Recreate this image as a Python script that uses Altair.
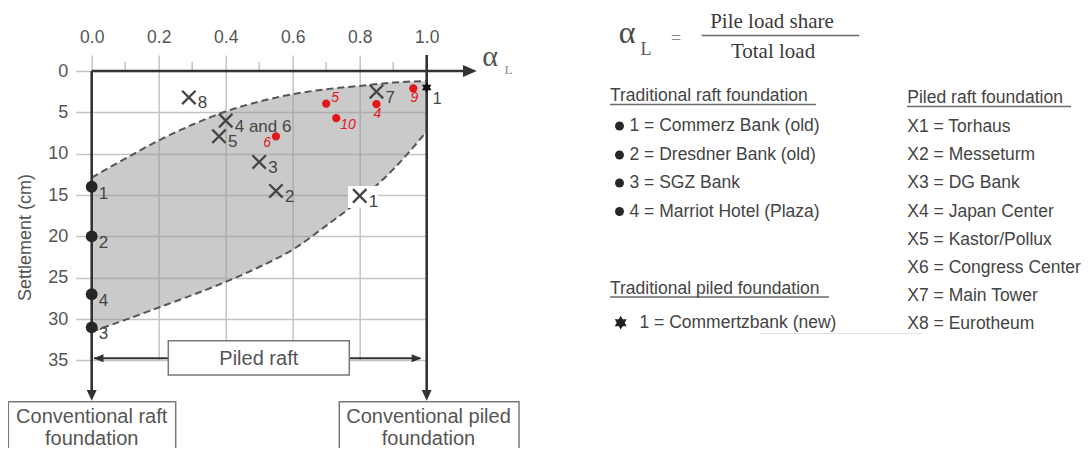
import altair as alt
import pandas as pd

# ---------------- data ----------------
alpha_grid = [0.0, 0.1, 0.2, 0.3, 0.4, 0.5, 0.6, 0.7, 0.8, 0.9, 1.0]
upper_env = [12.9, 10.6, 8.4, 6.5, 4.9, 3.7, 2.8, 2.2, 1.8, 1.4, 1.2]
lower_env = [31.5, 30.1, 28.6, 27.1, 25.5, 23.7, 21.6, 18.7, 15.6, 11.9, 7.3]

raft_ids = ["1", "2", "4", "3"]
raft_alpha = [0.0, 0.0, 0.0, 0.0]
raft_settle = [14.0, 20.0, 27.0, 31.0]

piled_raft_ids = ["8", "4 and 6", "5", "3", "2", "1", "7"]
piled_raft_alpha = [0.29, 0.40, 0.38, 0.50, 0.55, 0.80, 0.85]
piled_raft_settle = [3.2, 6.0, 7.9, 11.0, 14.5, 15.1, 2.5]

red_ids = ["5", "10", "4", "9", "6"]
red_alpha = [0.70, 0.73, 0.85, 0.96, 0.55]
red_settle = [3.95, 5.7, 4.0, 2.1, 7.9]

piled_ids = ["1"]
piled_alpha = [1.0]
piled_settle = [2.0]

x_ticks = [0.0, 0.2, 0.4, 0.6, 0.8, 1.0]
x_minor = [0.1, 0.3, 0.5, 0.7, 0.9]
y_ticks = [0, 5, 10, 15, 20, 25, 30, 35]

legend_raft = ["1 = Commerz Bank (old)", "2 = Dresdner Bank (old)",
               "3 = SGZ Bank", "4 = Marriot Hotel (Plaza)"]
legend_piled = ["1 = Commertzbank (new)"]
legend_piled_raft = ["X1 = Torhaus", "X2 = Messeturm", "X3  = DG Bank",
                     "X4 = Japan Center", "X5 = Kastor/Pollux",
                     "X6 = Congress Center", "X7 = Main Tower", "X8 = Eurotheum"]

# ---------------- layout helpers ----------------
X0, XS, Y0, YS = 91.7, 335.0, 71.0, 8.27   # page pixel of alpha=0 / px per unit, settlement=0 / px per cm
W, H = 335.0, 35 * YS
TOTAL_W, TOTAL_H = 1075.0, 440.0


def px(p):
    return (p - X0) / XS


def py(p):
    return (p - Y0) / YS


FONT = "Liberation Sans"
SERIF = "Liberation Serif"
INK = "#333333"
TXT = "#444444"
RED = "#e2161b"
GRID = "#c4c4c4"

xs = alt.Scale(domain=[0, 1], nice=False, zero=False)
ys = alt.Scale(domain=[0, 35], reverse=True, nice=False, zero=False)

XAX = alt.Axis(orient="top", values=x_ticks, format=".1f", title=None, grid=True,
               labelFontSize=17.5, labelPadding=9, labelFont=FONT, labelColor="#555555",
               labelFlush=False, labelOverlap=False,
               domain=False, tickColor=GRID, tickWidth=1.5, tickSize=16,
               gridColor=GRID, gridWidth=1.5)
YAX = alt.Axis(orient="left", values=y_ticks, title="Settlement (cm)", grid=True,
               labelFontSize=18, labelPadding=8, labelFont=FONT, labelColor="#555555",
               labelFlush=False, labelOverlap=False,
               domain=False, tickColor=GRID, tickWidth=1.5, tickSize=16,
               gridColor=GRID, gridWidth=1.5,
               titleFontSize=18, titleColor="#555555", titleFontWeight="normal",
               titleFont=FONT, titleAngle=270, titleAlign="center",
               titleBaseline="bottom", titleX=-57, titleY=166)


def X(f="x"):
    return alt.X(f"{f}:Q", scale=xs, axis=XAX)


def Y(f="y"):
    return alt.Y(f"{f}:Q", scale=ys, axis=YAX)


XPATH = "M-1,-1L1,1M-1,1L1,-1"
STAR = "M0,-1L0.866,0.5L-0.866,0.5Z M0,1L-0.866,-0.5L0.866,-0.5Z"
ARROW_R = "M0,0L-2,-0.875L-2,0.875Z"
ARROW_D = "M0,0L-0.93,-2L0.93,-2Z"
SMALL_L = "M0,0L2,-0.8L2,0.8Z"
SMALL_R = "M0,0L-2,-0.8L-2,0.8Z"

layers = []

# ---------------- envelope ----------------
env = pd.DataFrame({"x": alpha_grid, "upper": upper_env, "lower": lower_env})
layers.append(alt.Chart(env).mark_area(color="#969696", opacity=0.5, interpolate="monotone").encode(
    x=X("x"), y=Y("upper"), y2="lower:Q"))
for col in ["upper", "lower"]:
    layers.append(alt.Chart(env).mark_line(
        color="#555555", strokeWidth=2, strokeDash=[7, 4], interpolate="monotone"
    ).encode(x=X("x"), y=Y(col)))

# minor ticks on the top axis
minor = pd.DataFrame({"x": x_minor, "y": [py(62)] * 5, "y2": [0.0] * 5})
layers.append(alt.Chart(minor).mark_rule(color=GRID, strokeWidth=1.5).encode(
    x=X("x"), y=Y("y"), y2="y2:Q"))

# ---------------- frame lines and arrows ----------------
segs = pd.DataFrame([
    {"x": 0.0, "x2": px(476.7 - 12), "y": 0.0, "y2": 0.0},
    {"x": 0.0, "x2": 0.0, "y": 0.0, "y2": py(400.7 - 9)},
    {"x": 1.0, "x2": 1.0, "y": py(55), "y2": py(400.7 - 9)},
])
layers.append(alt.Chart(segs).mark_rule(color=INK, strokeWidth=2.6).encode(
    x=X("x"), x2="x2:Q", y=Y("y"), y2="y2:Q"))
layers.append(alt.Chart(pd.DataFrame({"x": [px(476.7)], "y": [0.0]})).mark_point(
    shape=ARROW_R, size=188, filled=True, color=INK, opacity=1).encode(x=X(), y=Y()))
layers.append(alt.Chart(pd.DataFrame({"x": [0.0, 1.0], "y": [py(400.7)] * 2})).mark_point(
    shape=ARROW_D, size=114, filled=True, color=INK, opacity=1).encode(x=X(), y=Y()))

# piled raft double arrow
ARR_Y = py(358.3)
layers.append(alt.Chart(pd.DataFrame({"x": [px(94)], "x2": [px(420)], "y": [ARR_Y]})).mark_rule(
    color=INK, strokeWidth=2).encode(x=X(), x2="x2:Q", y=Y()))
layers.append(alt.Chart(pd.DataFrame({"x": [px(93.5)], "y": [ARR_Y]})).mark_point(
    shape=SMALL_L, size=100, filled=True, color=INK, opacity=1).encode(x=X(), y=Y()))
layers.append(alt.Chart(pd.DataFrame({"x": [px(421.7)], "y": [ARR_Y]})).mark_point(
    shape=SMALL_R, size=100, filled=True, color=INK, opacity=1).encode(x=X(), y=Y()))

# boxes
boxes = pd.DataFrame([
    {"x": px(168.3), "x2": px(349.3), "y": py(340.7), "y2": py(375)},
    {"x": px(8.3), "x2": px(175.7), "y": py(401.7), "y2": py(470)},
    {"x": px(339.3), "x2": px(519), "y": py(401.7), "y2": py(470)},
])
layers.append(alt.Chart(boxes).mark_rect(fill="white", stroke="#777777", strokeWidth=1.5).encode(
    x=X("x"), x2="x2:Q", y=Y("y"), y2="y2:Q"))
box_text = pd.DataFrame([
    {"x": px(258.8), "y": py(358.5), "t": "Piled raft"},
    {"x": px(91.7), "y": py(417), "t": "Conventional raft"},
    {"x": px(91.7), "y": py(438.5), "t": "foundation"},
    {"x": px(428.5), "y": py(417), "t": "Conventional piled"},
    {"x": px(428.5), "y": py(438.5), "t": "foundation"},
])
layers.append(alt.Chart(box_text).mark_text(
    font=FONT, fontSize=20, color="#555555", align="center", baseline="middle"
).encode(x=X(), y=Y(), text="t:N"))

# white patch behind X1
layers.append(alt.Chart(pd.DataFrame({"x": [px(348)], "x2": [px(378)], "y": [py(186)], "y2": [py(208)]}))
              .mark_rect(fill="white").encode(x=X(), x2="x2:Q", y=Y(), y2="y2:Q"))

# ---------------- data points ----------------
raft_df = pd.DataFrame({"x": raft_alpha, "y": raft_settle, "t": raft_ids})
layers.append(alt.Chart(raft_df).mark_point(shape="circle", filled=True, size=140,
                                            color="#262626", opacity=1).encode(x=X(), y=Y()))
layers.append(alt.Chart(raft_df).mark_text(font=FONT, fontSize=17, color=TXT, align="left",
                                           baseline="middle", dx=7, dy=7).encode(x=X(), y=Y(), text="t:N"))

pr_df = pd.DataFrame({"x": piled_raft_alpha, "y": piled_raft_settle, "t": piled_raft_ids})
layers.append(alt.Chart(pr_df).mark_point(shape=XPATH, filled=False, size=180, strokeWidth=2.3,
                                          color="#454545", opacity=1).encode(x=X(), y=Y()))
layers.append(alt.Chart(pr_df).mark_text(font=FONT, fontSize=17, color=TXT, align="left",
                                         baseline="middle", dx=9, dy=6).encode(x=X(), y=Y(), text="t:N"))

red_df = pd.DataFrame({"x": red_alpha, "y": red_settle, "t": red_ids})
layers.append(alt.Chart(red_df).mark_point(shape="circle", filled=True, size=68,
                                           color=RED, opacity=1).encode(x=X(), y=Y()))
red_offsets = {"5": ("left", 5, -6), "10": ("left", 4, 7), "4": ("center", 1, 10),
               "9": ("center", 1, 10), "6": ("right", -5, 7)}
for lab, (al, dx, dy) in red_offsets.items():
    layers.append(alt.Chart(red_df).transform_filter(alt.datum.t == lab).mark_text(
        font=FONT, fontSize=14, fontStyle="italic", color=RED, align=al,
        baseline="middle", dx=dx, dy=dy).encode(x=X(), y=Y(), text="t:N"))

pl_df = pd.DataFrame({"x": piled_alpha, "y": piled_settle, "t": piled_ids})
layers.append(alt.Chart(pl_df).mark_point(shape=STAR, filled=True, size=120,
                                          color="#111111", opacity=1).encode(x=X(), y=Y()))
layers.append(alt.Chart(pl_df).mark_text(font=FONT, fontSize=16, color=TXT, align="left",
                                         baseline="middle", dx=6, dy=11).encode(x=X(), y=Y(), text="t:N"))

# alpha_L axis label
layers.append(alt.Chart(pd.DataFrame({"x": [px(490)], "y": [py(57)], "t": ["α"]})).mark_text(
    font=SERIF, fontSize=30, color="#555555", align="center", baseline="middle"
).encode(x=X(), y=Y(), text="t:N"))
layers.append(alt.Chart(pd.DataFrame({"x": [px(508.5)], "y": [py(69.5)], "t": ["L"]})).mark_text(
    font=SERIF, fontSize=13, color="#8a8a8a", align="center", baseline="middle"
).encode(x=X(), y=Y(), text="t:N"))

# ---------------- right-hand explanation panel ----------------
layers.append(alt.Chart(pd.DataFrame({"x": [px(627)], "y": [py(33)], "t": ["α"]})).mark_text(
    font=SERIF, fontSize=32, color="#4a4a4a", align="center", baseline="middle"
).encode(x=X(), y=Y(), text="t:N"))
layers.append(alt.Chart(pd.DataFrame({"x": [px(646)], "y": [py(50)], "t": ["L"]})).mark_text(
    font=SERIF, fontSize=18, color="#5a5a5a", align="center", baseline="middle"
).encode(x=X(), y=Y(), text="t:N"))
layers.append(alt.Chart(pd.DataFrame({"x": [px(676)], "y": [py(39)], "t": ["="]})).mark_text(
    font=SERIF, fontSize=18, color="#8a8a8a", align="center", baseline="middle"
).encode(x=X(), y=Y(), text="t:N"))
frac = pd.DataFrame({"x": [px(772), px(773)], "y": [py(22), py(52)],
                     "t": ["Pile load share", "Total load"]})
layers.append(alt.Chart(frac).mark_text(font=SERIF, fontSize=21, color="#3a3a3a",
                                        align="center", baseline="middle").encode(x=X(), y=Y(), text="t:N"))

lines = pd.DataFrame([
    {"x": px(701.7), "x2": px(859.3), "y": py(35.5)},
    {"x": px(610), "x2": px(816), "y": py(104.5)},
    {"x": px(610), "x2": px(829), "y": py(297)},
    {"x": px(907), "x2": px(1071), "y": py(106.5)},
])
layers.append(alt.Chart(lines).mark_rule(color="#6a6a6a", strokeWidth=1.3).encode(
    x=X(), x2="x2:Q", y=Y()))
layers.append(alt.Chart(pd.DataFrame({"x": [px(760)], "x2": [px(923)], "y": [py(333.5)]})).mark_rule(
    color="#e2e2e2", strokeWidth=1).encode(x=X(), x2="x2:Q", y=Y()))

heads = pd.DataFrame({"x": [px(610), px(610), px(907.3)], "y": [py(96), py(288.5), py(97.7)],
                      "t": ["Traditional raft foundation", "Traditional piled foundation",
                            "Piled raft foundation"]})
layers.append(alt.Chart(heads).mark_text(font=FONT, fontSize=17.5, color=TXT, align="left",
                                         baseline="middle").encode(x=X(), y=Y(), text="t:N"))

row_y_left = [126, 155, 183, 211.5]
leg_r = pd.DataFrame({"x": [px(629.5)] * 4, "bx": [px(619.5)] * 4,
                      "y": [py(v) for v in row_y_left], "t": legend_raft})
layers.append(alt.Chart(leg_r).mark_point(shape="circle", filled=True, size=80, color="#262626",
                                          opacity=1).encode(x=X("bx"), y=Y()))
layers.append(alt.Chart(leg_r).mark_text(font=FONT, fontSize=17.5, color=TXT, align="left",
                                         baseline="middle").encode(x=X(), y=Y(), text="t:N"))

leg_p = pd.DataFrame({"x": [px(639.5)], "bx": [px(620.7)], "y": [py(322.7)], "t": legend_piled})
layers.append(alt.Chart(leg_p).mark_point(shape=STAR, filled=True, size=190, color="#222222",
                                          opacity=1).encode(x=X("bx"), y=Y()))
layers.append(alt.Chart(leg_p).mark_text(font=FONT, fontSize=17.5, color=TXT, align="left",
                                         baseline="middle").encode(x=X(), y=Y(), text="t:N"))

row_y_right = [126.7, 155.3, 182.7, 211.7, 240, 267.7, 296, 324.3]
leg_pr = pd.DataFrame({"x": [px(907.3)] * 8, "y": [py(v) for v in row_y_right],
                       "t": legend_piled_raft})
layers.append(alt.Chart(leg_pr).mark_text(font=FONT, fontSize=17.5, color=TXT, align="left",
                                          baseline="middle").encode(x=X(), y=Y(), text="t:N"))

chart = alt.layer(*layers).properties(
    width=W, height=H,
    autosize=alt.AutoSizeParams(type="none"),
    padding={"left": X0 - 8, "top": Y0 - 8, "right": TOTAL_W - (X0 - 8) - W,
             "bottom": TOTAL_H - (Y0 - 8) - H},
    background="white",
).configure_view(stroke=None)

chart.save("out.html", embed_options={"renderer": "svg", "actions": False})
